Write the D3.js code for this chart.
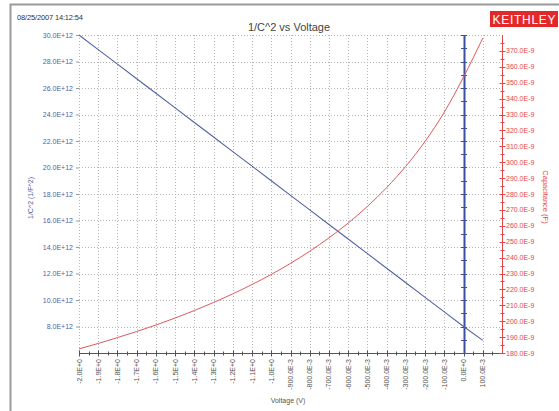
<!DOCTYPE html>
<html>
<head>
<meta charset="utf-8">
<script src="https://cdn.jsdelivr.net/npm/d3@7"></script>
<style>
  html, body { margin: 0; padding: 0; background: #fff; }
  svg { display: block; font-family: "Liberation Sans", Arial, sans-serif; }
</style>
</head>
<body>
<svg id="chart" width="559" height="411"></svg>
<script>
// 1/C^2 vs Voltage (CV sweep)
var voltage = [-2.0, -1.9, -1.8, -1.7, -1.6, -1.5, -1.4, -1.3, -1.2, -1.1, -1.0,
               -0.9, -0.8, -0.7, -0.6, -0.5, -0.4, -0.3, -0.2, -0.1, 0.0, 0.1];
var invC2 = [30.0e12, 28.9e12, 27.8e12, 26.7e12, 25.6e12, 24.5e12, 23.4e12, 22.3e12,
             21.2e12, 20.1e12, 19.0e12, 17.9e12, 16.8e12, 15.7e12, 14.6e12, 13.5e12,
             12.4e12, 11.3e12, 10.2e12, 9.1e12, 8.0e12, 6.95e12];
var capacitance = [182.6e-9, 186.0e-9, 189.7e-9, 193.5e-9, 197.6e-9, 202.0e-9, 206.7e-9,
                   211.8e-9, 217.2e-9, 223.1e-9, 229.4e-9, 236.4e-9, 244.0e-9, 252.4e-9,
                   261.7e-9, 272.2e-9, 284.0e-9, 297.5e-9, 313.1e-9, 331.5e-9, 353.6e-9, 378.0e-9];

var xTicks = voltage.slice();
var xTickLabels = ["-2.0E+0", "-1.9E+0", "-1.8E+0", "-1.7E+0", "-1.6E+0", "-1.5E+0",
                   "-1.4E+0", "-1.3E+0", "-1.2E+0", "-1.1E+0", "-1.0E+0", "-900.0E-3",
                   "-800.0E-3", "-700.0E-3", "-600.0E-3", "-500.0E-3", "-400.0E-3",
                   "-300.0E-3", "-200.0E-3", "-100.0E-3", "0.0E+0", "100.0E-3"];
var leftTicks = [8e12, 10e12, 12e12, 14e12, 16e12, 18e12, 20e12, 22e12, 24e12, 26e12, 28e12, 30e12];
var leftTickLabels = ["8.0E+12", "10.0E+12", "12.0E+12", "14.0E+12", "16.0E+12", "18.0E+12",
                      "20.0E+12", "22.0E+12", "24.0E+12", "26.0E+12", "28.0E+12", "30.0E+12"];
var rightTicks = [180e-9, 190e-9, 200e-9, 210e-9, 220e-9, 230e-9, 240e-9, 250e-9, 260e-9, 270e-9,
                  280e-9, 290e-9, 300e-9, 310e-9, 320e-9, 330e-9, 340e-9, 350e-9, 360e-9, 370e-9];
var rightTickLabels = ["180.0E-9", "190.0E-9", "200.0E-9", "210.0E-9", "220.0E-9", "230.0E-9",
                       "240.0E-9", "250.0E-9", "260.0E-9", "270.0E-9", "280.0E-9", "290.0E-9",
                       "300.0E-9", "310.0E-9", "320.0E-9", "330.0E-9", "340.0E-9", "350.0E-9",
                       "360.0E-9", "370.0E-9"];

(function () {
    "use strict";

    var svg = d3.select("#chart");
    var blue = "#4d5fa3", red = "#e2474b", axisGrey = "#555";

    var left = 79, right = 502, top = 35, bottom = 353;

    var x = d3.scaleLinear().domain([-2.0, 0.2]).range([left, right]);
    var yL = d3.scaleLinear().domain([6e12, 30e12]).range([bottom, top]);
    var yR = d3.scaleLinear().domain([180e-9, 380e-9]).range([bottom, top]);

    // frame
    svg.append("path")
        .attr("d", "M10.5,420 V4.5 H570")
        .attr("fill", "none")
        .attr("stroke", "#9a9a9a")
        .attr("stroke-width", 2);

    // header
    svg.append("text")
        .attr("x", 17).attr("y", 20)
        .attr("font-size", 7.5)
        .attr("textLength", 66)
        .attr("fill", "#333")
        .text("08/25/2007 14:12:54");

    svg.append("text")
        .attr("x", 289).attr("y", 31)
        .attr("text-anchor", "middle")
        .attr("font-size", 11)
        .attr("fill", "#444")
        .text("1/C^2 vs Voltage");

    svg.append("rect")
        .attr("x", 490).attr("y", 11)
        .attr("width", 68).attr("height", 16)
        .attr("fill", "#e3282a");
    svg.append("text")
        .attr("x", 524).attr("y", 23.5)
        .attr("text-anchor", "middle")
        .attr("font-size", 12)
        .attr("textLength", 63)
        .attr("fill", "#fff")
        .text("KEITHLEY");

    // grid
    var grid = svg.append("g")
        .attr("stroke", "#b5b5b5")
        .attr("stroke-width", 1)
        .attr("stroke-dasharray", "1,2");
    grid.selectAll("line.v")
        .data(xTicks)
        .join("line")
        .attr("class", "v")
        .attr("x1", function (d) { return Math.round(x(d)) + 0.5; })
        .attr("x2", function (d) { return Math.round(x(d)) + 0.5; })
        .attr("y1", top).attr("y2", bottom);
    grid.selectAll("line.h")
        .data(leftTicks)
        .join("line")
        .attr("class", "h")
        .attr("x1", left).attr("x2", right)
        .attr("y1", function (d) { return Math.round(yL(d)) + 0.5; })
        .attr("y2", function (d) { return Math.round(yL(d)) + 0.5; });

    // left axis (labels + small ticks, no solid line)
    var leftAxis = svg.append("g")
        .attr("transform", "translate(" + left + ",0)")
        .call(d3.axisLeft(yL)
            .tickValues(leftTicks)
            .tickSize(3)
            .tickFormat(function (d, i) { return leftTickLabels[i]; }));
    leftAxis.select(".domain").remove();
    leftAxis.selectAll("line").attr("stroke", "#999");
    leftAxis.selectAll("text")
        .attr("fill", blue)
        .attr("font-size", 7)
        .attr("font-family", "Liberation Sans, Arial, sans-serif");

    svg.append("text")
        .attr("transform", "translate(33,198) rotate(-90)")
        .attr("text-anchor", "middle")
        .attr("font-size", 7)
        .attr("fill", blue)
        .text("1/C^2 (1/F^2)");

    // bottom axis
    var xMinor = d3.range(-1.95, 0.2, 0.1);
    var bottomAxis = svg.append("g").attr("stroke", axisGrey);
    bottomAxis.append("line")
        .attr("x1", left).attr("x2", right)
        .attr("y1", bottom + 0.5).attr("y2", bottom + 0.5);
    bottomAxis.selectAll("line.maj")
        .data(xTicks)
        .join("line")
        .attr("class", "maj")
        .attr("x1", function (d) { return Math.round(x(d)) + 0.5; })
        .attr("x2", function (d) { return Math.round(x(d)) + 0.5; })
        .attr("y1", bottom - 2.5).attr("y2", bottom + 3.5);
    bottomAxis.selectAll("line.min")
        .data(xMinor)
        .join("line")
        .attr("class", "min")
        .attr("x1", function (d) { return Math.round(x(d)) + 0.5; })
        .attr("x2", function (d) { return Math.round(x(d)) + 0.5; })
        .attr("y1", bottom - 1.5).attr("y2", bottom + 2.5);

    svg.append("g")
        .selectAll("text")
        .data(xTicks)
        .join("text")
        .attr("transform", function (d) {
            return "translate(" + (x(d) + 2.5) + "," + (bottom + 6) + ") rotate(-90)";
        })
        .attr("text-anchor", "end")
        .attr("font-size", 7)
        .attr("fill", "#555")
        .text(function (d, i) { return xTickLabels[i]; });

    svg.append("text")
        .attr("x", 288).attr("y", 403)
        .attr("text-anchor", "middle")
        .attr("font-size", 7)
        .attr("fill", "#555")
        .text("Voltage (V)");

    // right axis (capacitance)
    var rMinor = d3.range(185e-9, 380e-9, 10e-9);
    var rightAxis = svg.append("g").attr("stroke", red);
    rightAxis.append("line")
        .attr("x1", right + 0.5).attr("x2", right + 0.5)
        .attr("y1", top).attr("y2", bottom + 1);
    rightAxis.selectAll("line.maj")
        .data(rightTicks)
        .join("line")
        .attr("class", "maj")
        .attr("x1", right - 2.5).attr("x2", right + 3.5)
        .attr("y1", function (d) { return Math.round(yR(d)) + 0.5; })
        .attr("y2", function (d) { return Math.round(yR(d)) + 0.5; });
    rightAxis.selectAll("line.min")
        .data(rMinor)
        .join("line")
        .attr("class", "min")
        .attr("x1", right - 1.5).attr("x2", right + 2.5)
        .attr("y1", function (d) { return Math.round(yR(d)) + 0.5; })
        .attr("y2", function (d) { return Math.round(yR(d)) + 0.5; });

    svg.append("g")
        .selectAll("text")
        .data(rightTicks)
        .join("text")
        .attr("x", right + 4)
        .attr("y", function (d) { return yR(d) + 2.5; })
        .attr("font-size", 7)
        .attr("fill", red)
        .text(function (d, i) { return rightTickLabels[i]; });

    svg.append("text")
        .attr("transform", "translate(543,197) rotate(90)")
        .attr("text-anchor", "middle")
        .attr("font-size", 7.5)
        .attr("fill", red)
        .text("Capacitance (F)");

    // zero-volt cursor
    var cursor = svg.append("g").attr("stroke", "#3a4f9e");
    cursor.append("line")
        .attr("x1", Math.round(x(0)) + 0.5).attr("x2", Math.round(x(0)) + 0.5)
        .attr("y1", top).attr("y2", bottom)
        .attr("stroke-width", 2);
    cursor.selectAll("line.t")
        .data(d3.range(7e12, 30.5e12, 1e12))
        .join("line")
        .attr("class", "t")
        .attr("x1", x(0) - 2.5).attr("x2", x(0) + 3.5)
        .attr("y1", function (d) { return Math.round(yL(d)) + 0.5; })
        .attr("y2", function (d) { return Math.round(yL(d)) + 0.5; });

    // series
    var lineL = d3.line()
        .x(function (d, i) { return x(voltage[i]); })
        .y(function (d) { return yL(d); });
    var lineR = d3.line()
        .curve(d3.curveMonotoneX)
        .x(function (d, i) { return x(voltage[i]); })
        .y(function (d) { return yR(d); });

    svg.append("path")
        .datum(invC2)
        .attr("d", lineL)
        .attr("fill", "none")
        .attr("stroke", "#5263a0")
        .attr("stroke-width", 1.1);

    svg.append("path")
        .datum(capacitance)
        .attr("d", lineR)
        .attr("fill", "none")
        .attr("stroke", "#e0585c")
        .attr("stroke-width", 1);
})();
</script>
</body>
</html>
